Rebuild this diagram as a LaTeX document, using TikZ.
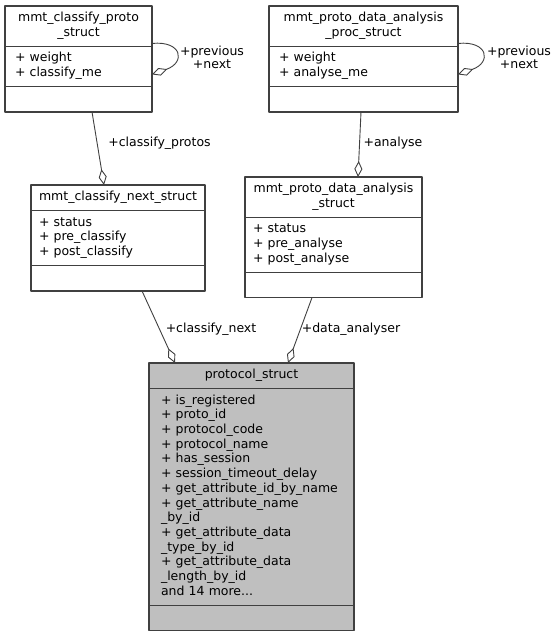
\documentclass[tikz,border=0pt]{standalone}
\usepackage{fontspec}
\setmainfont{DejaVu Sans}
\usetikzlibrary{shapes.multipart,arrows.meta,positioning}

\begin{document}
\begin{tikzpicture}[x=1pt, y=-1pt, line cap=round, line join=round,
  font=\fontsize{12.5}{14.7}\selectfont,
  cls/.style={rectangle split, rectangle split parts=3, draw=black!75,
    line width=1.2pt, fill=white, inner xsep=10pt, inner ysep=4.8pt,
    outer sep=0pt, anchor=north west},
  agg/.style={draw=black!75, line width=0.9pt,
    -{Diamond[open, length=16pt, width=8pt]}},
  role/.style={inner sep=0pt, align=center, font=\fontsize{12.5}{13}\selectfont}]
  \useasboundingbox (0,0) rectangle (556,637);

  %--- classes -------------------------------------------------------------
  \node[cls, text width=127pt] (cp) at (5,6)
    {\centering\strut mmt\_classify\_proto\\\strut\_struct\par
     \nodepart{two}\strut + weight\\\strut + classify\_me
     \nodepart{three}\strut};
  \node[cls, text width=169pt] (ap) at (269,6)
    {\centering\strut mmt\_proto\_data\_analysis\\\strut\_proc\_struct\par
     \nodepart{two}\strut + weight\\\strut + analyse\_me
     \nodepart{three}\strut};
  \node[cls, inner xsep=8pt, text width=158pt] (cn) at (31,185)
    {\centering\strut mmt\_classify\_next\_struct\par
     \nodepart{two}\strut + status\\\strut + pre\_classify\\\strut + post\_classify
     \nodepart{three}\strut};
  \node[cls, inner xsep=8pt, text width=161pt] (an) at (245,177)
    {\centering\strut mmt\_proto\_data\_analysis\\\strut\_struct\par
     \nodepart{two}\strut + status\\\strut + pre\_analyse\\\strut + post\_analyse
     \nodepart{three}\strut};

  % main struct
  \node[cls, fill=black!25, inner xsep=12pt, text width=181pt] (ps) at (149,363)
    {\centering\strut protocol\_struct\par
     \nodepart{two}\strut + is\_registered\\\strut + proto\_id\\\strut + protocol\_code\\
     \strut + protocol\_name\\\strut + has\_session\\\strut + session\_timeout\_delay\\
     \strut + get\_attribute\_id\_by\_name\\\strut + get\_attribute\_name\\\strut \_by\_id\\
     \strut + get\_attribute\_data\\\strut \_type\_by\_id\\\strut + get\_attribute\_data\\
     \strut \_length\_by\_id\\\strut and 14 more...
     \nodepart{three}\strut};

  %--- members -------------------------------------------------------------
  \draw[agg] ([yshift=15.5pt]cp.east) .. controls +(30,-3) and +(34,-12) .. ([yshift=-15.5pt]cp.east);
  \draw[agg] ([yshift=15.5pt]ap.east) .. controls +(30,-3) and +(34,-12) .. ([yshift=-15.5pt]ap.east);
  \draw[agg] ([xshift=13.5pt]cp.south) -- ([xshift=-14pt]cn.north);
  \draw[agg] ([xshift=-2.5pt]ap.south) -- ([xshift=24.5pt]an.north);
  \draw[agg] ([xshift=24pt]cn.south) -- ([xshift=-76.5pt]ps.north);
  \draw[agg] ([xshift=-21.5pt]an.south) -- ([xshift=36.5pt]ps.north);

  % member names
  \node[role] (cp-self) at (212,57) {+previous\\+next};
  \node[role] (ap-self) at (519,57) {+previous\\+next};
  \node[role] (cprotos) at (159.5,143) {+classify\_protos};
  \node[role] (analyse) at (393,143) {+analyse};
  \node[role] (cnext) at (211,329) {+classify\_next};
  \node[role] (danalyser) at (351,329) {+data\_analyser};
\end{tikzpicture}
\end{document}
